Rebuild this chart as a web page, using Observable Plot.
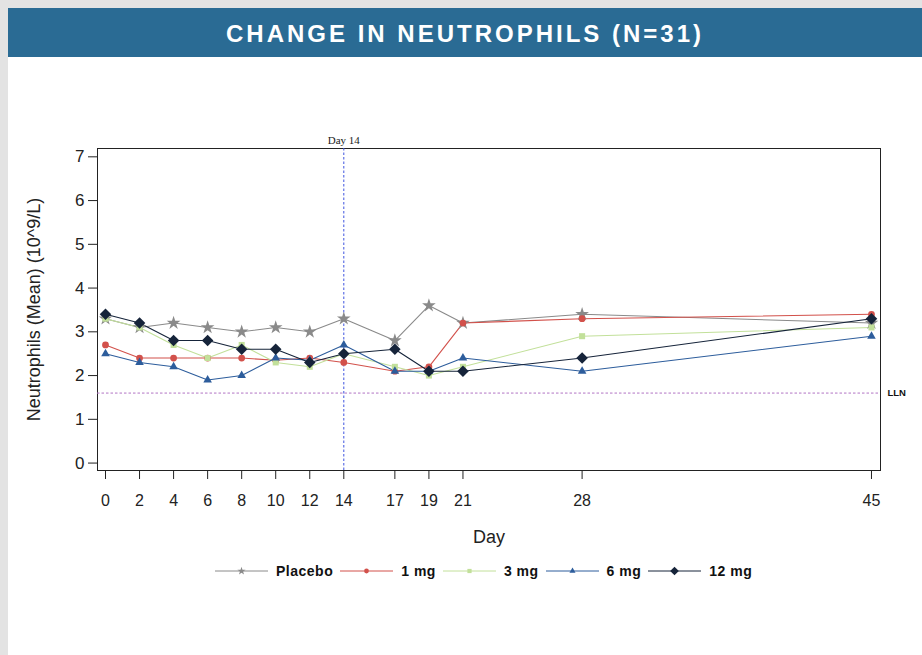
<!DOCTYPE html>
<html>
<head>
<meta charset="utf-8">
<script src="https://cdn.jsdelivr.net/npm/d3@7"></script>
<script src="https://cdn.jsdelivr.net/npm/@observablehq/plot@0.6"></script>
<style>
  html, body { margin: 0; padding: 0; }
  body {
    width: 922px; height: 655px; position: relative; overflow: hidden;
    background: #e3e3e3;
    font-family: "Liberation Sans", Arial, sans-serif;
  }
  #sheet { position: absolute; left: 8px; top: 8px; width: 914px; height: 647px; background: #fff; }
  #title {
    position: absolute; left: 8px; top: 8px; width: 914px; height: 49px;
    background: #2a6b94; color: #fff; font-weight: bold; font-size: 24px;
    letter-spacing: 3px; text-align: center; line-height: 51px;
  }
  #chart { position: absolute; left: 0; top: 110px; }
  #legend {
    position: absolute; left: 215px; top: 561px; height: 20px;
    display: flex; align-items: center; white-space: nowrap;
  }
  #legend .item { display: flex; align-items: center; margin-right: 7px; }
  #legend .item span { font-weight: bold; font-size: 14px; letter-spacing: 0.5px; color: #111; margin-left: 8px; }
</style>
</head>
<body>
<div id="sheet"></div>
<div id="title">CHANGE IN NEUTROPHILS (N=31)</div>
<div id="chart"></div>
<div id="legend"></div>
<script>
// Study days and mean neutrophil counts (10^9/L) per treatment group
const days = [0, 2, 4, 6, 8, 10, 12, 14, 17, 19, 21, 28, 45];
const groups = ["Placebo", "1 mg", "3 mg", "6 mg", "12 mg"];
const placebo = [3.3, 3.1, 3.2, 3.1, 3.0, 3.1, 3.0, 3.3, 2.8, 3.6, 3.2, 3.4, 3.2];
const mg1     = [2.7, 2.4, 2.4, 2.4, 2.4, 2.35, 2.4, 2.3, 2.1, 2.2, 3.2, 3.3, 3.4];
const mg3     = [3.3, 3.1, 2.7, 2.4, 2.7, 2.3, 2.2, 2.5, 2.2, 2.0, 2.2, 2.9, 3.1];
const mg6     = [2.5, 2.3, 2.2, 1.9, 2.0, 2.4, 2.35, 2.7, 2.1, 2.1, 2.4, 2.1, 2.9];
const mg12    = [3.4, 3.2, 2.8, 2.8, 2.6, 2.6, 2.3, 2.5, 2.6, 2.1, 2.1, 2.4, 3.3];
const lln = 1.6;
const refDay = 14;

const colors  = ["#8a8a8a", "#d2514b", "#c2e09a", "#2d5d9c", "#16243a"];
const symbols = ["star", "circle", "square", "triangle", "diamond2"];
const sizes   = [4.3, 3.4, 3.4, 3.2, 5.2];
const legendScale = [0.6, 0.7, 0.7, 0.7, 0.75];
const series  = [placebo, mg1, mg3, mg6, mg12];

const rows = groups.flatMap((g, i) => days.map((d, j) => ({group: g, day: d, value: series[i][j]})));

const chart = Plot.plot({
  width: 922,
  height: 445,
  marginLeft: 97,
  marginRight: 42,
  marginTop: 38,
  marginBottom: 85,
  style: {fontFamily: "'Liberation Sans', Arial, sans-serif", color: "#222", background: "transparent"},
  x: {domain: [-0.47, 45.53], ticks: days, label: "Day"},
  y: {domain: [-0.17, 7.19], ticks: d3.range(0, 8), label: "Neutrophils (Mean) (10^9/L)"},
  marks: [
    Plot.frame({stroke: "#222", strokeWidth: 1}),
    Plot.ruleY([lln], {stroke: "#b173c4", strokeDasharray: "2.5,2", strokeWidth: 1}),
    Plot.ruleX([refDay], {stroke: "#3f55e0", strokeDasharray: "2.5,2", strokeWidth: 1}),
    Plot.text([refDay], {x: d => d, frameAnchor: "top", dy: -12, text: d => `Day ${d}`,
      fontFamily: "'Liberation Serif', 'Times New Roman', serif", fontSize: 11, fill: "#222"}),
    Plot.text([lln], {y: d => d, frameAnchor: "right", dx: 7, textAnchor: "start", text: () => "LLN",
      fontWeight: "bold", fontSize: 9.5, fill: "#111"}),
    ...groups.map((g, i) => Plot.line(rows.filter(r => r.group === g), {
      x: "day", y: "value", stroke: colors[i], strokeWidth: 1.1
    })),
    ...groups.map((g, i) => Plot.dot(rows.filter(r => r.group === g), {
      x: "day", y: "value", symbol: () => symbols[i], fill: colors[i], stroke: "none", r: sizes[i]
    })),
    Plot.axisY({ticks: d3.range(0, 8), tickSize: 9, tickPadding: 4, fontSize: 17,
      label: "Neutrophils (Mean) (10^9/L)", labelAnchor: "center", labelArrow: "none", labelOffset: 70}),
    Plot.axisX({ticks: days, tickSize: 9, tickPadding: 15, fontSize: 16,
      label: "Day", labelAnchor: "center", labelArrow: "none", labelOffset: 72})
  ]
});
chart.querySelectorAll('[aria-label="y-axis label"] text, [aria-label="x-axis label"] text').forEach(t => {
  t.setAttribute("font-size", 18);
});
document.getElementById("chart").appendChild(chart);

// Legend: line sample with centred marker, then group name
const legend = d3.select("#legend");
const symMap = {star: d3.symbolStar, circle: d3.symbolCircle, square: d3.symbolSquare,
                triangle: d3.symbolTriangle, diamond2: d3.symbolDiamond2};
groups.forEach((g, i) => {
  const item = legend.append("div").attr("class", "item");
  const svg = item.append("svg").attr("width", 53).attr("height", 14);
  svg.append("line").attr("x1", 0).attr("x2", 53).attr("y1", 7).attr("y2", 7)
    .attr("stroke", colors[i]).attr("stroke-width", 1);
  const r = sizes[i] * legendScale[i];
  svg.append("path").attr("transform", "translate(26.5,7)")
    .attr("d", d3.symbol(symMap[symbols[i]], Math.PI * r * r)())
    .attr("fill", colors[i]);
  item.append("span").text(g);
});
</script>
</body>
</html>
